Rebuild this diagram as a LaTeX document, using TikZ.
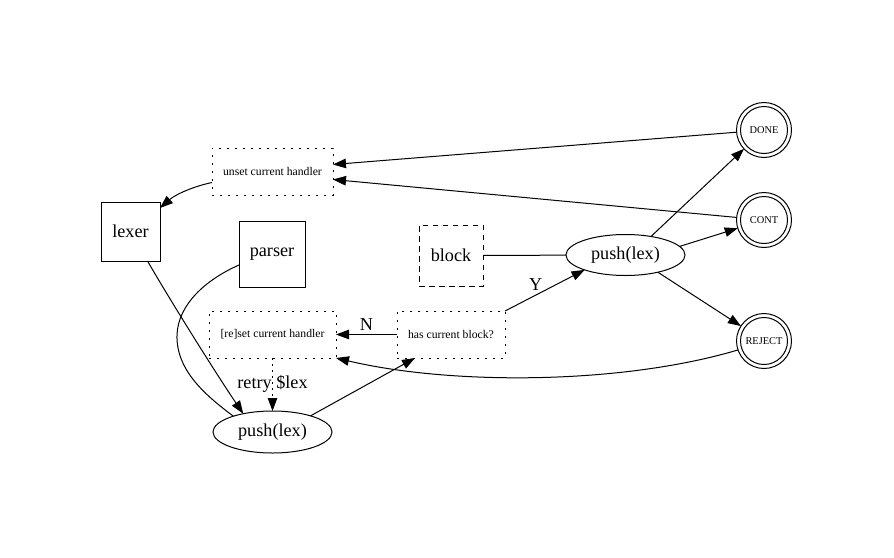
\documentclass[tikz,border=0pt]{standalone}
\usepackage{fontspec}
\setmainfont{Liberation Serif}
\usetikzlibrary{arrows.meta,shapes.geometric}
\begin{document}
\begin{tikzpicture}[x=1pt,y=-1pt,
  every node/.style={inner sep=0pt, outer sep=0pt},
  big/.style={font=\fontsize{18.2}{20}\selectfont},
  small/.style={font=\fontsize{11.7}{13}\selectfont},
  tiny/.style={font=\fontsize{10.4}{12}\selectfont},
  sbox/.style={draw, line width=1pt, rectangle, big},
  dotbox/.style={draw, line width=1pt, rectangle, small, dash pattern=on 2pt off 6pt},
  ell/.style={draw, line width=1pt, ellipse, big, minimum width=119pt, minimum height=41pt},
  final/.style={draw, line width=1pt, circle, tiny, minimum size=55pt},
  conn/.style={line width=1pt},
  arr/.style={conn, -{Triangle[length=13pt,width=9.5pt]}},
]
\useasboundingbox (0,0) rectangle (894,557);

% nodes
\node[dotbox, minimum width=121pt, minimum height=47pt] (unset) at (272.5,171.5) {unset current handler};
\node[sbox, minimum width=59pt, minimum height=59pt] (lexer) at (130.5,231.5) {lexer};
\node[sbox, minimum width=66pt, minimum height=66pt] (parser) at (272,254) {parser};
\node[sbox, minimum width=64pt, minimum height=61pt, dash pattern=on 5.5pt off 4.5pt] (block) at (451,255.5) {block};
\node[ell] (pushR) at (625.5,255) {push(lex)};
\node[dotbox, minimum width=127pt, minimum height=47pt] (reset) at (272.5,334.5) {[re]set current handler};
\node[dotbox, minimum width=108pt, minimum height=47pt] (has) at (451,334.5) {has current block?};
\node[ell, minimum height=42pt] (pushB) at (272.5,432) {push(lex)};
\node[final] (done) at (764,130) {DONE};
\node[final] (cont) at (764,220) {CONT};
\node[final] (reject) at (764,341) {REJECT};
\draw[line width=1pt] (done) circle[radius=23.5pt];
\draw[line width=1pt] (cont) circle[radius=23.5pt];
\draw[line width=1pt] (reject) circle[radius=23.5pt];

% edges
\draw[arr] (done) -- ([yshift=7pt]unset.east);
\draw[arr] (cont) -- ([yshift=-8pt]unset.east);
\draw[arr] ([yshift=-11pt]unset.west) .. controls (195,186) and (176,194) .. ([yshift=-6pt]lexer.north east);
\draw[arr] ([xshift=17pt]lexer.south) .. controls (170,300) and (215,372) .. (pushB.148);
\draw[conn] ([yshift=-11pt]parser.west) .. controls (205,280) and (178,305) .. (177,335) .. controls (176,370) and (205,395) .. (pushB.158);
\draw[arr, dash pattern=on 2pt off 4pt] (reset) -- (pushB) node[midway, big, yshift=1pt] {retry \$lex};
\draw[arr] (pushB.23) -- ([xshift=-36pt]has.south);
\draw[arr] (has) -- (reset) node[midway, above=4pt, big] {N};
\draw[arr] (has.north east) -- (pushR.200) node[midway, big, xshift=-9pt, yshift=6pt] {Y};
\draw[conn] (block) -- (pushR);
\draw[arr] (pushR.36) -- (done);
\draw[arr] (pushR.9) -- (cont);
\draw[arr] (pushR.-28) -- (reject);
\draw[arr] (reject.199) .. controls (620,385) and (450,385) .. (reset.south east);
\end{tikzpicture}
\end{document}
